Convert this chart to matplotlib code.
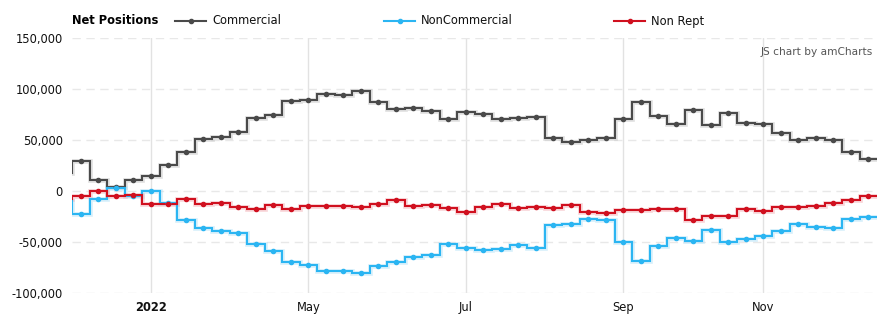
import matplotlib.pyplot as plt
import numpy as np
from matplotlib.lines import Line2D
from matplotlib.ticker import FuncFormatter

# weekly net positions, first value is the week just before the visible range
commercial = [17700, 29500, 10500, 3900, 11200, 14800, 25600, 37800, 51200, 52500, 58100,
              71800, 74200, 88600, 89600, 95500, 94500, 97600, 87600, 80700, 81700, 78700,
              70800, 77700, 75800, 70800, 71800, 72800, 52200, 48200, 50200, 52200, 70800,
              87600, 73800, 65900, 79700, 64900, 76800, 66900, 65900, 57100, 50200, 52200,
              50200, 38400, 31200]
non_commercial = [-9800, -22600, -7500, 3300, -4900, 400, -11800, -28500, -36400, -39400, -41300,
                  -52400, -58400, -69200, -72800, -78700, -78700, -80000, -73800, -69900, -64900,
                  -62300, -52200, -56100, -58100, -57100, -53100, -56100, -33500, -32500, -27600,
                  -28500, -50200, -68200, -54100, -46200, -49200, -38400, -50200, -47200, -44300,
                  -39400, -32500, -35400, -36400, -27600, -25600]
non_rept = [-7500, -4900, 400, -4900, -4200, -12800, -12800, -7500, -12800, -11800, -15700,
            -17700, -13800, -17700, -14800, -14800, -14800, -15700, -12800, -8500, -14800, -13800,
            -16700, -20700, -15700, -12800, -16700, -15700, -16700, -13800, -20700, -21600, -18700,
            -18700, -17700, -17700, -28500, -24600, -24600, -17700, -19700, -15700, -15700, -14800,
            -11800, -8500, -4900]

tick_pos = [4, 13, 22, 31, 39]
tick_labels = ["2022", "May", "Jul", "Sep", "Nov"]
y_ticks = [-100000, -50000, 0, 50000, 100000, 150000]

series = [
    ("Commercial", commercial, "#4a4a4a", "#c4c4c4"),
    ("NonCommercial", non_commercial, "#2bb5f2", "#b4e2f8"),
    ("Non Rept", non_rept, "#d0101f", "#f2b0b6"),
]

fig = plt.figure(figsize=(8.91, 3.26), dpi=100)
ax = fig.add_axes([72 / 891, 33 / 326, 805 / 891, 255 / 326])

n = len(commercial)
x = np.arange(n) - 1
edges = np.arange(n + 1) - 1.5

for name, vals, col, halo in series:
    ax.stairs(vals, edges, baseline=None, color=halo, lw=3.4, alpha=0.5, zorder=2)
    ax.stairs(vals, edges, baseline=None, color=col, lw=1.5, zorder=3)
    ax.plot(x, vals, "o", color=col, ms=3, zorder=4)

ax.set_xlim(-0.5, 45.5)
ax.set_ylim(-100000, 150000)
ax.set_yticks(y_ticks)
ax.yaxis.set_major_formatter(FuncFormatter(lambda v, p: f"{int(v):,}"))
ax.set_xticks(tick_pos)
ax.set_xticklabels(tick_labels)
ax.get_xticklabels()[0].set_fontweight("bold")

ax.tick_params(axis="both", length=0, labelsize=8.3, colors="#111111")
ax.tick_params(axis="y", pad=6.5)
ax.tick_params(axis="x", pad=6)

ax.grid(axis="y", color="#e8e8e8", lw=1, ls=(0, (6, 4)))
ax.grid(axis="x", color="#e2e2e2", lw=1)
ax.set_axisbelow(True)
for s in ax.spines.values():
    s.set_visible(False)

ax.text(0.995, 0.945, "JS chart by amCharts", transform=ax.transAxes, ha="right",
        va="center", fontsize=7.6, color="#555555")

# legend row
ly = 1 - 21 / 326
fig.text(72 / 891, ly, "Net Positions", fontsize=8.3, fontweight="bold", va="center")
for (name, vals, col, halo), x0 in zip(series, [175, 384, 614]):
    fig.add_artist(Line2D([x0 / 891, (x0 + 31) / 891], [ly, ly], color=col, lw=1.5))
    fig.add_artist(Line2D([(x0 + 15.5) / 891], [ly], color=col, marker="o", ms=3))
    fig.text((x0 + 37) / 891, ly, name, fontsize=8.3, va="center", color="#111111")

fig.savefig("out.png", dpi=100)
